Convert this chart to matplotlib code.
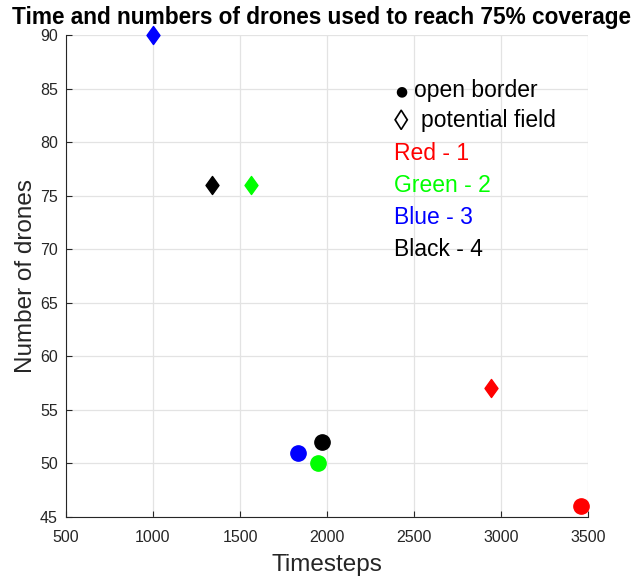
import matplotlib
matplotlib.use("Agg")
import matplotlib.pyplot as plt
from matplotlib.path import Path

plt.rcParams['font.family'] = ['Liberation Sans', 'DejaVu Sans']

colors = ['#ff0000', '#00ff00', '#0000ff', '#000000']
names = ['Red - 1', 'Green - 2', 'Blue - 3', 'Black - 4']
open_x = [3460, 1950, 1833, 1971]
open_y = [46, 50, 51, 52]
pot_x = [2940, 1562, 1000, 1337]
pot_y = [57, 76, 90, 76]

xticks = [500, 1000, 1500, 2000, 2500, 3000, 3500]
yticks = [45, 50, 55, 60, 65, 70, 75, 80, 85, 90]

diamond = Path([(0, 1), (0.72, 0), (0, -1), (-0.72, 0), (0, 1)],
               [Path.MOVETO, Path.LINETO, Path.LINETO, Path.LINETO, Path.CLOSEPOLY])

fig = plt.figure(figsize=(6.44, 5.82), dpi=100)
ax = fig.add_axes([66/644, 65/582, 522/644, 482/582])

for c, x, y in zip(colors, open_x, open_y):
    ax.plot(x, y, marker='o', color=c, ms=11, ls='none', zorder=3, clip_on=False)
for c, x, y in zip(colors, pot_x, pot_y):
    ax.plot(x, y, marker=diamond, color=c, ms=13, ls='none', zorder=3, clip_on=False)

ax.set_xlim(500, 3500)
ax.set_ylim(45, 90)
ax.set_xticks(xticks)
ax.set_yticks(yticks)
ax.grid(True, color='#e3e3e3', lw=0.9)
ax.set_axisbelow(True)
for s in ['top', 'right']:
    ax.spines[s].set_visible(False)
for s in ['left', 'bottom']:
    ax.spines[s].set_color('#262626')
    ax.spines[s].set_linewidth(0.8)
ax.tick_params(direction='in', length=4, colors='#262626', labelsize=11.5, width=0.8)
ax.tick_params(axis='x', pad=9)
ax.tick_params(axis='y', pad=6)

ax.set_xlabel('Timesteps', fontsize=17.5, color='#262626', labelpad=7)
ax.set_ylabel('Number of drones', fontsize=17.5, color='#262626', labelpad=2)
fig.text(0.5, 0.99, 'Time and numbers of drones used to reach 75% coverage',
         ha='center', va='top', fontsize=16.3, fontweight='bold')

# legend-like annotation block
fig.text(395/644, 1 - 91/582, '\u25cf', fontsize=10, ha='left', va='center',
         family=['DejaVu Sans'])
fig.text(414/644, 1 - 90/582, 'open border', fontsize=16.5, ha='left', va='center')
fig.text(394/644, 1 - 122/582, '\u25ca', fontsize=21, ha='left', va='center',
         family=['Liberation Sans', 'DejaVu Sans'])
fig.text(421/644, 1 - 121/582, 'potential field', fontsize=16.5, ha='left', va='center')
ys = [154, 186, 218, 249]
for t, c, yp in zip(names, colors, ys):
    fig.text(394/644, 1 - yp/582, t, color=c, fontsize=16.5, ha='left', va='center')

fig.savefig('out.png', dpi=100)
